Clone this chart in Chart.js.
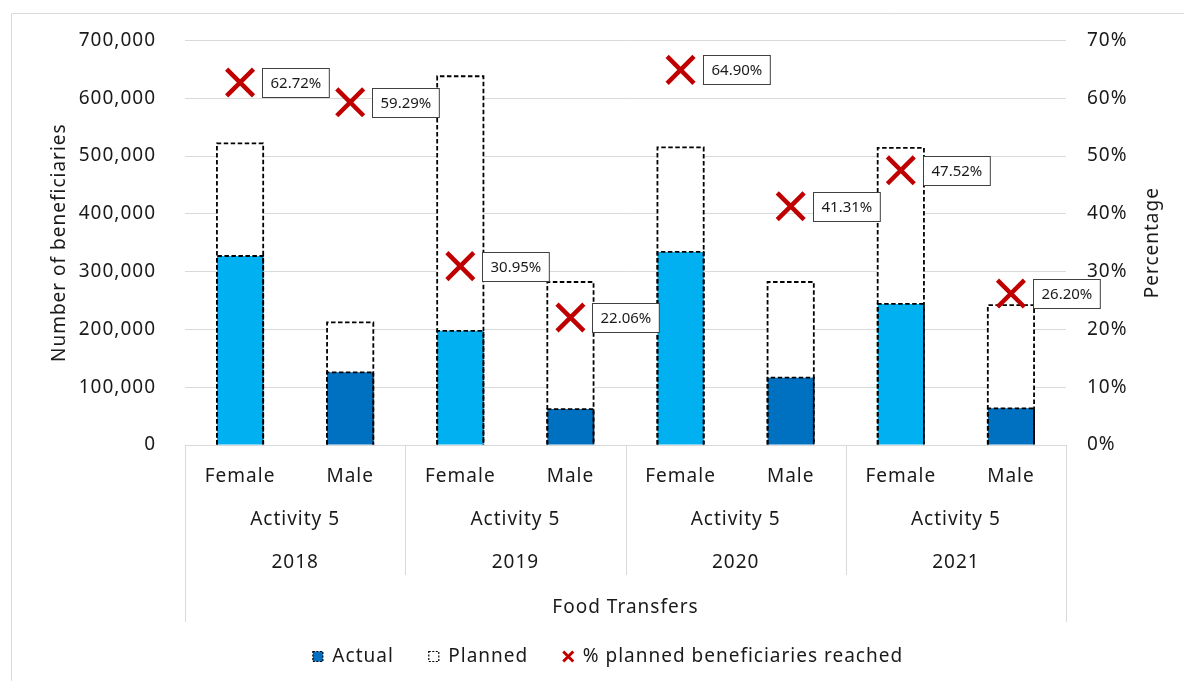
<!DOCTYPE html>
<html>
<head>
<meta charset="utf-8">
<script src="https://cdn.jsdelivr.net/npm/chart.js@4.4.1/dist/chart.umd.min.js"></script>
<style>
  body { margin: 0; background: #fff; }
  #wrap { position: relative; width: 1184px; height: 681px; }
</style>
</head>
<body>
<div id="wrap"><canvas id="grafico"></canvas></div>
<script>
// dados
const sexos = ['Female', 'Male', 'Female', 'Male', 'Female', 'Male', 'Female', 'Male'];
const anos = ['2018', '2019', '2020', '2021'];
const atividade = 'Activity 5';
const modalidade = 'Food Transfers';
const realizados = [327000, 125700, 197500, 62200, 334000, 116500, 244000, 63400];
const planejados = [522000, 212000, 638000, 282000, 515000, 282000, 514000, 242000];
const percentuais = [62.72, 59.29, 30.95, 22.06, 64.90, 41.31, 47.52, 26.20];

const fonte = 'Noto Sans';
const tam = 19;
const corTexto = '#1a1a1a';
const corGrade = '#d9d9d9';

// espaçamento entre letras parecido com o do Excel
const pluginEspaco = {
    id: 'espaco',
    beforeLayout(chart) { chart.ctx.letterSpacing = '1px'; },
    beforeDraw(chart) { chart.ctx.letterSpacing = '1px'; },
    afterLayout(chart) {
        // legenda um pouco deslocada para a direita, como no original
        chart.legend.left += 16;
        chart.legend.right += 16;
    }
};

// contornos tracejados das barras (Chart.js não faz borderDash em barra)
const pluginTracejado = {
    id: 'tracejado',
    afterDatasetDraw(chart, args) {
        if (args.index !== 0) return; // depois de desenhar "Actual"
        const ctx = chart.ctx;
        ctx.save();
        ctx.strokeStyle = '#000';
        ctx.lineWidth = 1.8;
        ctx.setLineDash([4.5, 2.5]);
        [1, 0].forEach(idx => {
            chart.getDatasetMeta(idx).data.forEach(bar => {
                const p = bar.getProps(['x', 'y', 'base', 'width'], true);
                const esq = p.x - p.width / 2, dir = p.x + p.width / 2;
                ctx.beginPath();
                ctx.moveTo(esq, p.base);
                ctx.lineTo(esq, p.y);
                ctx.lineTo(dir, p.y);
                ctx.lineTo(dir, p.base);
                ctx.stroke();
            });
        });
        ctx.restore();
    }
};

// caixas com os percentuais ao lado dos X
const pluginRotulos = {
    id: 'rotulos',
    afterDatasetsDraw(chart) {
        const ctx = chart.ctx;
        const meta = chart.getDatasetMeta(2);
        ctx.save();
        ctx.letterSpacing = '0px';
        ctx.font = '15px "' + fonte + '"';
        ctx.textBaseline = 'middle';
        ctx.textAlign = 'left';
        meta.data.forEach((pt, i) => {
            const txt = percentuais[i].toFixed(2) + '%';
            const w = ctx.measureText(txt).width + 16;
            const h = 29;
            const x0 = Math.round(pt.x + 22) + 0.5;
            const y0 = Math.round(pt.y - h / 2) + 0.5;
            ctx.fillStyle = '#fff';
            ctx.fillRect(x0, y0, w, h);
            ctx.strokeStyle = '#404040';
            ctx.lineWidth = 1;
            ctx.strokeRect(x0, y0, w, h);
            ctx.fillStyle = corTexto;
            ctx.fillText(txt, x0 + 8, y0 + h / 2 + 1);
        });
        ctx.restore();
    }
};

// eixo X em vários níveis + moldura + título da direita
const pluginEixo = {
    id: 'eixoMulti',
    beforeDraw(chart) {
        const ctx = chart.ctx;
        ctx.save();
        ctx.strokeStyle = '#d9d9d9';
        ctx.lineWidth = 1;
        ctx.beginPath();
        ctx.moveTo(11.5, 700);
        ctx.lineTo(11.5, 13.5);
        ctx.lineTo(1200, 13.5);
        ctx.stroke();
        ctx.restore();
    },
    afterDraw(chart) {
        const ctx = chart.ctx;
        const x = chart.scales.x;
        const area = chart.chartArea;
        const passo = x.getPixelForValue(1) - x.getPixelForValue(0);
        const base = area.bottom;
        ctx.save();
        ctx.strokeStyle = corGrade;
        ctx.lineWidth = 1;
        // divisões dos anos
        for (let g = 0; g <= anos.length; g++) {
            const px = Math.round(x.getPixelForValue(g * 2) - passo / 2) + 0.5;
            const fim = (g === 0 || g === anos.length) ? base + 177 : base + 130;
            ctx.beginPath();
            ctx.moveTo(px, base);
            ctx.lineTo(px, fim);
            ctx.stroke();
        }
        ctx.fillStyle = corTexto;
        ctx.font = tam + 'px "' + fonte + '"';
        ctx.textAlign = 'center';
        ctx.textBaseline = 'middle';
        anos.forEach((ano, g) => {
            const cx = (x.getPixelForValue(g * 2) + x.getPixelForValue(g * 2 + 1)) / 2;
            ctx.fillText(atividade, cx, base + 75);
            ctx.fillText(ano, cx, base + 118);
        });
        ctx.fillText(modalidade, (area.left + area.right) / 2, base + 163);

        // título do eixo da direita (de baixo para cima)
        ctx.translate(1153, (area.top + area.bottom) / 2);
        ctx.rotate(-Math.PI / 2);
        ctx.fillText('Percentage', 0, 0);
        ctx.restore();
    }
};

const ctx = document.getElementById('grafico').getContext('2d');
window.graficoAlvo = new Chart(ctx, {
    data: {
        labels: sexos,
        datasets: [
            {
                type: 'bar',
                label: 'Actual',
                data: realizados,
                backgroundColor: sexos.map(s => s === 'Female' ? '#00B0F0' : '#0070C0'),
                borderWidth: 0,
                grouped: false,
                barPercentage: 0.42,
                categoryPercentage: 1,
                yAxisID: 'y',
                order: 1
            },
            {
                type: 'bar',
                label: 'Planned',
                data: planejados,
                backgroundColor: '#ffffff',
                borderWidth: 0,
                grouped: false,
                barPercentage: 0.42,
                categoryPercentage: 1,
                yAxisID: 'y',
                order: 2
            },
            {
                type: 'line',
                label: '% planned beneficiaries reached',
                data: percentuais,
                showLine: false,
                pointStyle: 'crossRot',
                pointRadius: 19,
                pointHoverRadius: 19,
                borderColor: '#C00000',
                pointBorderWidth: 4.5,
                yAxisID: 'y1',
                order: 0
            }
        ]
    },
    plugins: [pluginEspaco, pluginTracejado, pluginRotulos, pluginEixo],
    options: {
        responsive: true,
        maintainAspectRatio: false,
        animation: false,
        layout: { padding: { top: 40, left: 0, right: 0, bottom: 5 } },
        scales: {
            x: {
                type: 'category',
                offset: true,
                grid: { display: false, drawTicks: false },
                border: { display: true, color: corGrade, width: 1 },
                ticks: { color: corTexto, font: { family: fonte, size: tam }, padding: 20, maxRotation: 0 },
                afterFit: (s) => { s.height = 167; }
            },
            y: {
                position: 'left',
                min: 0,
                max: 700000,
                grid: { color: corGrade, drawTicks: false },
                border: { display: false },
                ticks: {
                    stepSize: 100000,
                    color: corTexto,
                    font: { family: fonte, size: tam },
                    padding: 29,
                    callback: v => v.toLocaleString('en-US')
                },
                title: {
                    display: true,
                    text: 'Number of beneficiaries',
                    color: corTexto,
                    font: { family: fonte, size: tam },
                    padding: { top: 48, bottom: 0 }
                },
                afterFit: (s) => { s.width = 185; }
            },
            y1: {
                position: 'right',
                min: 0,
                max: 70,
                grid: { display: false, drawTicks: false },
                border: { display: false },
                ticks: {
                    stepSize: 10,
                    color: corTexto,
                    font: { family: fonte, size: tam },
                    padding: 21,
                    callback: v => v + '%'
                },
                afterFit: (s) => { s.width = 118; }
            }
        },
        plugins: {
            tooltip: { enabled: false },
            legend: {
                display: true,
                position: 'bottom',
                labels: {
                    color: corTexto,
                    font: { family: fonte, size: tam },
                    usePointStyle: true,
                    boxWidth: 10,
                    boxHeight: 10,
                    padding: 35,
                    generateLabels: () => [
                        { text: 'Actual', datasetIndex: 0, fillStyle: '#0070C0', strokeStyle: '#000', lineWidth: 1.2, lineDash: [2, 1.5], pointStyle: 'rect', hidden: false, fontColor: corTexto },
                        { text: 'Planned', datasetIndex: 1, fillStyle: '#fff', strokeStyle: '#000', lineWidth: 1.2, lineDash: [2, 1.5], pointStyle: 'rect', hidden: false, fontColor: corTexto },
                        { text: '% planned beneficiaries reached', datasetIndex: 2, fillStyle: '#C00000', strokeStyle: '#C00000', lineWidth: 3, pointStyle: 'crossRot', hidden: false, fontColor: corTexto }
                    ]
                }
            }
        }
    }
});
</script>
</body>
</html>
